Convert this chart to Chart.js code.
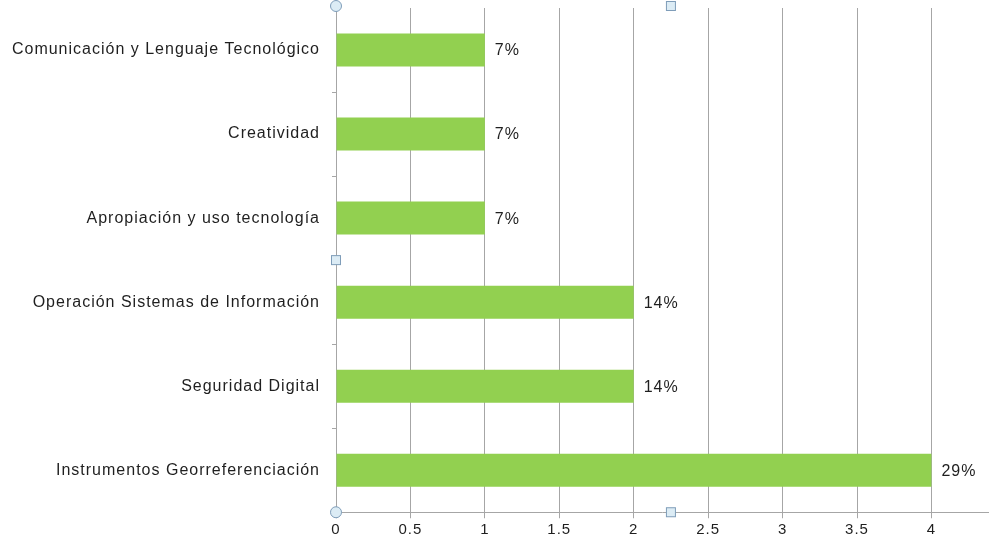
<!DOCTYPE html>
<html>
<head>
<meta charset="utf-8">
<script src="https://cdn.jsdelivr.net/npm/chart.js@4.4.0/dist/chart.umd.min.js"></script>
<style>
  html, body { margin: 0; padding: 0; background: #fff; overflow: hidden; }
  #wrap { width: 990px; height: 542px; }
</style>
</head>
<body>
<div id="wrap"><canvas id="chart"></canvas></div>
<script>
const categories = [
  "Comunicación y Lenguaje Tecnológico",
  "Creatividad",
  "Apropiación y uso tecnología",
  "Operación Sistemas de Información",
  "Seguridad Digital",
  "Instrumentos Georreferenciación"
];
const counts = [1, 1, 1, 2, 2, 4];
const percentLabels = ["7%", "7%", "7%", "14%", "14%", "29%"];
const xTicks = [0, 0.5, 1, 1.5, 2, 2.5, 3, 3.5, 4];

const gridColor = "#a6a6a6";
const fontFamily = "'Liberation Sans', Arial, sans-serif";

// spaced-out text like the original rendering
const spacing = {
  id: "spacing",
  beforeDraw(chart) {
    chart.ctx.letterSpacing = "1px";
  }
};

// percent text at the end of each bar
const barLabels = {
  id: "barLabels",
  afterDatasetsDraw(chart) {
    const ctx = chart.ctx;
    const meta = chart.getDatasetMeta(0);
    ctx.save();
    ctx.font = "16px " + fontFamily;
    ctx.fillStyle = "#1f1f1f";
    ctx.textBaseline = "middle";
    ctx.textAlign = "left";
    meta.data.forEach((bar, i) => {
      ctx.fillText(percentLabels[i], bar.x + 10, bar.y + 1);
    });
    ctx.restore();
  }
};

// selection handles seen in the original screenshot
const handles = {
  id: "handles",
  afterDraw(chart) {
    const ctx = chart.ctx;
    const a = chart.chartArea;
    const xs = chart.scales.x;
    const midX = xs.getPixelForValue(2.25);
    const midY = (a.top + a.bottom) / 2;
    ctx.save();
    ctx.letterSpacing = "0px";
    ctx.lineWidth = 1;
    ctx.strokeStyle = "#7f9db9";
    ctx.fillStyle = "#dcecf5";
    [[a.left, a.top - 2], [a.left, a.bottom]].forEach(([x, y]) => {
      ctx.beginPath();
      ctx.arc(x, y, 5.5, 0, Math.PI * 2);
      ctx.fill();
      ctx.stroke();
    });
    [[a.left, midY], [midX, a.bottom], [midX, a.top - 2]].forEach(([x, y]) => {
      ctx.fillRect(x - 4.5, y - 4.5, 9, 9);
      ctx.strokeRect(x - 4.5, y - 4.5, 9, 9);
    });
    ctx.restore();
  }
};

new Chart(document.getElementById("chart"), {
  type: "bar",
  data: {
    labels: categories,
    datasets: [{
      data: counts,
      backgroundColor: "#92d050",
      borderWidth: 0,
      barPercentage: 0.393,
      categoryPercentage: 1.0
    }]
  },
  options: {
    indexAxis: "y",
    responsive: true,
    maintainAspectRatio: false,
    animation: false,
    layout: { padding: { top: 8, right: 2, left: 0, bottom: 0 } },
    plugins: {
      legend: { display: false },
      tooltip: { enabled: false }
    },
    scales: {
      x: {
        min: 0,
        max: 4.38,
        afterBuildTicks(scale) {
          scale.ticks = xTicks.map(v => ({ value: v }));
        },
        grid: {
          color: gridColor,
          lineWidth: 1,
          tickLength: 6,
          drawOnChartArea: true
        },
        border: { color: gridColor, width: 1 },
        ticks: {
          color: "#1f1f1f",
          font: { family: fontFamily, size: 15, lineHeight: 1.05 },
          padding: 4,
          maxRotation: 0,
          autoSkip: false,
          callback: v => String(v)
        }
      },
      y: {
        afterFit(scale) {
          scale.width = 336;
          scale.paddingTop = 0;
          scale.paddingBottom = 0;
        },
        grid: {
          drawOnChartArea: false,
          color: gridColor,
          tickLength: 4,
          offset: true
        },
        border: { color: gridColor, width: 1 },
        ticks: {
          color: "#1f1f1f",
          font: { family: fontFamily, size: 16 },
          padding: 12
        }
      }
    }
  },
  plugins: [spacing, barLabels, handles]
});
</script>
</body>
</html>
